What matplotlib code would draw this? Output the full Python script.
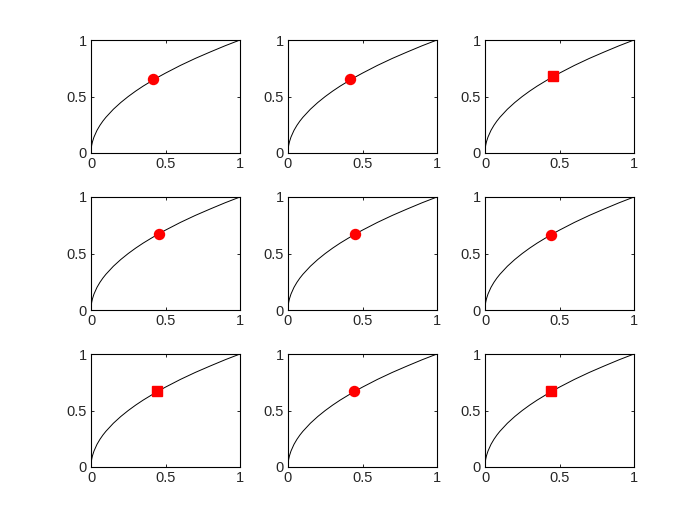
import matplotlib
matplotlib.use("Agg")
import matplotlib.pyplot as plt

# curve (same in every panel)
curve_x = [0.0, 0.002, 0.005, 0.01, 0.02, 0.04, 0.06, 0.08, 0.1, 0.15, 0.2, 0.25,
           0.3, 0.35, 0.4, 0.45, 0.5, 0.6, 0.7, 0.8, 0.9, 1.0]
curve_y = [0.0, 0.045, 0.071, 0.10, 0.141, 0.2, 0.245, 0.283, 0.316, 0.387, 0.447, 0.5,
           0.548, 0.592, 0.632, 0.671, 0.707, 0.775, 0.837, 0.894, 0.949, 1.0]

# red marker in each panel
point_x = [0.416, 0.418, 0.458, 0.456, 0.450, 0.441, 0.445, 0.441, 0.441]
point_y = [0.655, 0.655, 0.681, 0.673, 0.673, 0.664, 0.670, 0.670, 0.670]
point_marker = ['o', 'o', 's', 'o', 'o', 'o', 's', 'o', 's']

tick_vals = [0, 0.5, 1]
tick_labels = ['0', '0.5', '1']

plt.rcParams['font.family'] = ['Liberation Sans', 'DejaVu Sans']
fig = plt.figure(figsize=(6.94, 5.31), dpi=100)

W, H = 694, 531
lefts = [91, 288, 485]
tops = [40, 197, 354]
aw, ah = 149, 113

for i in range(9):
    r, c = divmod(i, 3)
    ax = fig.add_axes([lefts[c] / W, (H - tops[r] - ah) / H, aw / W, ah / H])
    ax.plot(curve_x, curve_y, color='black', lw=0.7)
    ms = 7.2 if point_marker[i] == 'o' else 6.5
    ax.plot([point_x[i]], [point_y[i]], marker=point_marker[i], color='red',
            markersize=ms, markeredgecolor='red', linestyle='none')
    ax.set_xlim(0, 1)
    ax.set_ylim(0, 1)
    ax.set_xticks(tick_vals)
    ax.set_xticklabels(tick_labels)
    ax.set_yticks(tick_vals)
    ax.set_yticklabels(tick_labels)
    ax.tick_params(direction='in', top=True, right=True, length=2, width=0.6,
                   labelsize=10.5, labelcolor='#262626', pad=3)
    for s in ax.spines.values():
        s.set_linewidth(0.8)

fig.savefig('out.png', dpi=100)
